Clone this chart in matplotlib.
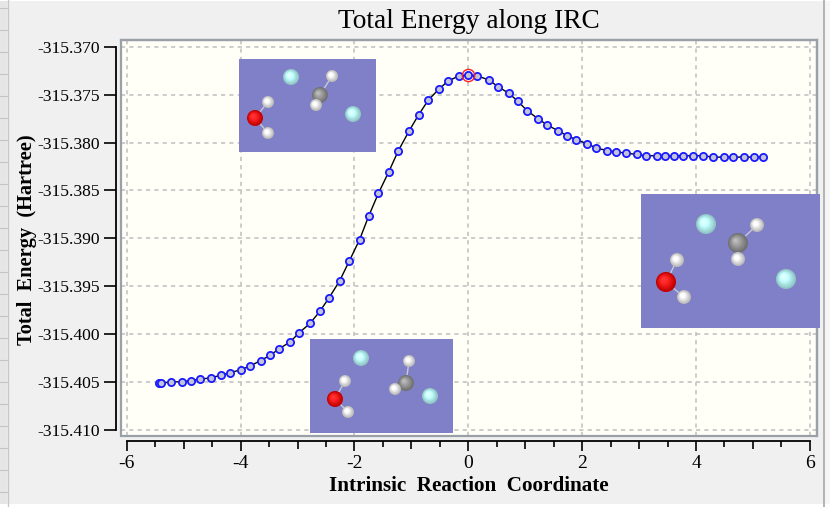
import numpy as np
import matplotlib
matplotlib.use("Agg")
import matplotlib.pyplot as plt
from matplotlib.patches import Rectangle

W, H = 830, 507

# IRC path
irc_x = [-5.44, -5.39, -5.22, -5.03, -4.87, -4.71, -4.52, -4.35, -4.18, -4.00,
         -3.83, -3.65, -3.48, -3.32, -3.13, -2.97, -2.78, -2.61, -2.45, -2.26,
         -2.09, -1.91, -1.75, -1.58, -1.40, -1.23, -1.04, -0.87, -0.70, -0.52,
         -0.36, -0.17, 0.00, 0.16, 0.36, 0.52, 0.71, 0.87, 1.03, 1.22,
         1.39, 1.57, 1.74, 1.90, 2.09, 2.25, 2.44, 2.60, 2.77, 2.96,
         3.12, 3.31, 3.45, 3.62, 3.78, 3.95, 4.13, 4.30, 4.49, 4.65,
         4.84, 5.01, 5.17]
irc_e = [-315.40514, -315.40514, -315.40500, -315.40500, -315.40486, -315.40472,
         -315.40458, -315.40431, -315.40403, -315.40375, -315.40333, -315.40278,
         -315.40222, -315.40153, -315.40083, -315.39986, -315.39889, -315.39764,
         -315.39625, -315.39444, -315.39236, -315.39014, -315.38767, -315.38530,
         -315.38308, -315.38085, -315.37877, -315.37706, -315.37553, -315.37442,
         -315.37358, -315.37303, -315.37292, -315.37303, -315.37344, -315.37414,
         -315.37483, -315.37567, -315.37664, -315.37748, -315.37817, -315.37873,
         -315.37928, -315.37970, -315.38012, -315.38057, -315.38082, -315.38096,
         -315.38110, -315.38123, -315.38137, -315.38137, -315.38137, -315.38137,
         -315.38137, -315.38137, -315.38137, -315.38151, -315.38151, -315.38151,
         -315.38151, -315.38151, -315.38151]
ts_x = [0.0]
ts_e = [-315.37292]

x_ticks = [-6, -4, -2, 0, 2, 4, 6]
x_minor = [-5.5, -5, -4.5, -3.5, -3, -2.5, -1.5, -1, -0.5, 0.5, 1, 1.5, 2.5, 3, 3.5, 4.5, 5, 5.5]
y_ticks = [-315.370, -315.375, -315.380, -315.385, -315.390, -315.395, -315.400, -315.405, -315.410]
y_labels = ['-315.370', '-315.375', '-315.380', '-315.385', '-315.390', '-315.395', '-315.400', '-315.405', '-315.410']

# insets: pixel box (left, top, right, bottom) then atoms (x, y, radius, colour)
WHITE = '#e8e8e8'
GREY = '#8c8c8c'
RED = '#f00000'
CYAN = '#b4f6f6'
inset_boxes = [(239, 59, 376, 152), (310, 339, 453, 433), (641, 194, 820, 328)]
inset_atoms = [
    [(291, 77, 8, CYAN), (332, 76, 6, WHITE), (320, 95, 8, GREY), (316, 105, 6, WHITE),
     (353, 114, 8, CYAN), (268, 102, 6, WHITE), (255, 118, 8, RED), (268, 133, 6, WHITE)],
    [(361, 358, 8, CYAN), (409, 361, 6, WHITE), (406, 383, 8, GREY), (395, 389, 6, WHITE),
     (430, 396, 8, CYAN), (345, 381, 6, WHITE), (335, 399, 8, RED), (348, 412, 6, WHITE)],
    [(706, 224, 10, CYAN), (757, 225, 7, WHITE), (738, 243, 10, GREY), (738, 259, 7, WHITE),
     (786, 279, 10, CYAN), (677, 260, 7, WHITE), (666, 282, 10, RED), (684, 297, 7, WHITE)],
]
# atom index pairs joined by a bond
inset_bonds = [(1, 2), (2, 3), (5, 6), (6, 7)]


def ball(ax, cx, cy, r, colour):
    # shaded sphere from a few stacked circles
    base = np.array(matplotlib.colors.to_rgb(colour))
    for f in np.linspace(1, 0.15, 8):
        shade = base * (0.8 + 0.2 * (1 - f)) + (1 - f) * 0.25
        shift = (1 - f) * r * 0.3
        ax.add_patch(plt.Circle((cx - shift, cy - shift), r * f,
                                color=np.clip(shade, 0, 1), lw=0, zorder=3))


plt.rcParams['font.family'] = ['Liberation Serif']
fig = plt.figure(figsize=(W / 100, H / 100), dpi=100, facecolor='#f0f0f0')

# plot box is placed in pixels, limits worked out from the tick positions
left, right, top, bottom = 120.5, 816.7, 40, 436
ax = fig.add_axes([left / W, 1 - bottom / H, (right - left) / W, (bottom - top) / H])
ax.set_facecolor('#fffff8')
ax.set_xlim(-6.11, 6.12)
ax.set_ylim(-315.41066, -315.36927)

ax.grid(True, which='major', color='#c4c4c4', linestyle=(0, (2.5, 2.5)), linewidth=1.2)
ax.set_axisbelow(True)

ax.plot(irc_x, irc_e, color='black', linewidth=1.0, zorder=3)
ax.plot(irc_x, irc_e, linestyle='none', marker='o', markersize=5.2, markerfacecolor='#c4c4d8',
        markeredgecolor='#1a1aff', markeredgewidth=1.3, zorder=4)
ax.plot(ts_x, ts_e, linestyle='none', marker='o', markersize=8.8, markerfacecolor='none',
        markeredgecolor='#ff2020', markeredgewidth=1.0, zorder=5)

ax.set_xticks(x_ticks)
ax.set_xticks(x_minor, minor=True)
ax.set_yticks(y_ticks)
ax.set_yticklabels(y_labels)
ax.set_xticklabels([str(v) for v in x_ticks])

for name in ['top', 'right']:
    ax.spines[name].set_color('#9aa0a8')
    ax.spines[name].set_linewidth(1.6)
ax.spines['left'].set_position(('outward', 3))
ax.spines['bottom'].set_position(('outward', 3.4))
ax.spines['left'].set_bounds(-315.410, -315.370)
ax.spines['bottom'].set_bounds(-6, 6)
for name in ['left', 'bottom']:
    ax.spines[name].set_linewidth(1.3)
# grey frame of the plot area itself
ax.add_patch(Rectangle((0, 0), 1, 1, transform=ax.transAxes, fill=False, edgecolor='#9aa0a8',
                       linewidth=1.6, clip_on=False, zorder=2))

ax.tick_params(axis='x', which='major', length=7.5, width=1.2, pad=3, labelsize=14)
ax.tick_params(axis='x', which='minor', length=4, width=1.2)
ax.tick_params(axis='y', which='major', length=8.5, width=1.2, pad=3, labelsize=12.6)
# whole numbers get a longer minor tick
for tick, v in zip(ax.xaxis.get_minor_ticks(), x_minor):
    if float(v).is_integer():
        tick.tick1line.set_markersize(6)

ax.set_title('Total Energy along IRC', fontsize=19.7, pad=9)
ax.set_xlabel('Intrinsic  Reaction  Coordinate', fontsize=15.2, fontweight='bold', labelpad=3)
ax.set_ylabel('Total  Energy  (Hartree)', fontsize=14.7, fontweight='bold')
ax.yaxis.set_label_coords((37 - left) / (right - left), 0.495)

# overlay in pixel coordinates for the window edges and the molecule pictures
over = fig.add_axes([0, 0, 1, 1], facecolor='none')
over.set_xlim(0, W)
over.set_ylim(H, 0)
over.axis('off')

over.add_patch(Rectangle((0, 0), 7, H, color='#e6e6e6', lw=0))
over.axvline(7.5, color='#c8c8c8', lw=1)
for y in range(8, H, 22):
    over.plot([0, 7], [y, y], color='#c4c4c4', lw=0.8)
over.add_patch(Rectangle((825, 0), 5, H, color='#f6f6f6', lw=0))
over.axvline(824, color='#a8a8a8', lw=1.2)
over.add_patch(Rectangle((0, 504), W, 3, color='white', lw=0))
over.add_patch(Rectangle((0, 0), W, 1, color='white', lw=0))

for (x0, y0, x1, y1), atoms in zip(inset_boxes, inset_atoms):
    over.add_patch(Rectangle((x0, y0), x1 - x0, y1 - y0, color='#8080c8', lw=0, zorder=1))
    for i, j in inset_bonds:
        over.plot([atoms[i][0], atoms[j][0]], [atoms[i][1], atoms[j][1]], color='#c8c8d8', lw=1.0, zorder=2)
    for cx, cy, r, colour in atoms:
        ball(over, cx, cy, r, colour)

fig.savefig('out.png', dpi=100, facecolor=fig.get_facecolor())
